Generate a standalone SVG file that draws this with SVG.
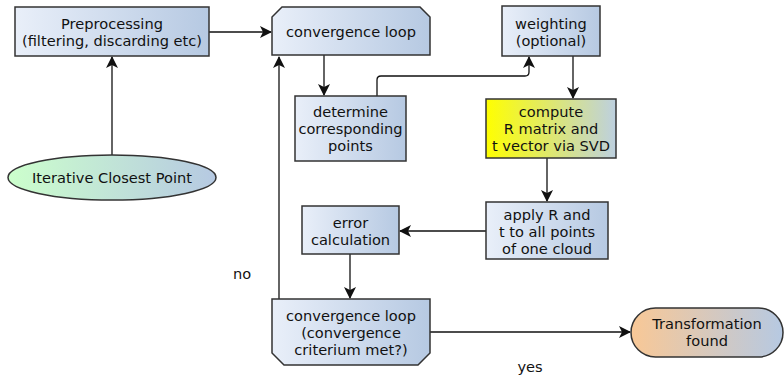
<svg xmlns="http://www.w3.org/2000/svg" width="784" height="376" viewBox="0 0 784 376">
<style>
  .box { stroke: #333333; stroke-width: 1.5; }
  .blue { fill: url(#gBlue); }
  .t { font-family: "DejaVu Sans", sans-serif; font-size: 14.6px; fill: #111111; text-anchor: middle; }
  .c { fill: none; stroke: #111111; stroke-width: 1.3; }
</style>
<defs>
  <linearGradient id="gBlue" x1="0" y1="0" x2="1" y2="0">
    <stop offset="0" stop-color="#e9eff9"/>
    <stop offset="1" stop-color="#b6c9e2"/>
  </linearGradient>
  <linearGradient id="gYellow" x1="0" y1="0" x2="1" y2="0">
    <stop offset="0" stop-color="#ffff00"/>
    <stop offset="1" stop-color="#bdd0e0"/>
  </linearGradient>
  <linearGradient id="gGreen" x1="0" y1="0" x2="1" y2="0">
    <stop offset="0" stop-color="#ccffcc"/>
    <stop offset="1" stop-color="#b6c9e2"/>
  </linearGradient>
  <linearGradient id="gOrange" x1="0" y1="0" x2="1" y2="0">
    <stop offset="0" stop-color="#f9c896"/>
    <stop offset="1" stop-color="#b6c9e2"/>
  </linearGradient>
  <marker id="arr" viewBox="0 0 12 12" refX="11" refY="6" markerWidth="12" markerHeight="12" markerUnits="userSpaceOnUse" orient="auto">
    <path d="M0,0 L12,6 L0,12 L3,6 Z" fill="#111111"/>
  </marker>
</defs>

<g id="connectors">
  <path class="c" d="M209,32 L271,32" marker-end="url(#arr)"/>
  <path class="c" d="M112,155 L112,57" marker-end="url(#arr)"/>
  <path class="c" d="M324,55 L324,95" marker-end="url(#arr)"/>
  <path class="c" d="M377,96 L377,80 Q377,76 381,76 L525,76 Q529,76 529,72 L529,57" marker-end="url(#arr)"/>
  <path class="c" d="M573,56 L573,98" marker-end="url(#arr)"/>
  <path class="c" d="M547,158 L547,201" marker-end="url(#arr)"/>
  <path class="c" d="M486,231 L400,231" marker-end="url(#arr)"/>
  <path class="c" d="M350,254 L350,298" marker-end="url(#arr)"/>
  <path class="c" d="M279,299 L279,57" marker-end="url(#arr)"/>
  <path class="c" d="M430,332 L630,332" marker-end="url(#arr)"/>
  <text class="t" x="242" y="279">no</text>
  <text class="t" x="530" y="372">yes</text>
</g>

<g id="preprocessing">
  <rect class="box blue" x="15" y="7" width="194" height="49"/>
  <text class="t" x="112" y="29">Preprocessing</text>
  <text class="t" x="112" y="46">(filtering, discarding etc)</text>
</g>

<g id="convergence-loop-top">
  <path class="box blue" d="M282,7 L420,7 L430,17 L430,55 L272,55 L272,17 Z"/>
  <text class="t" x="351" y="36.5">convergence loop</text>
</g>

<g id="weighting">
  <rect class="box blue" x="502" y="6" width="98" height="50"/>
  <text class="t" x="551" y="28.5">weighting</text>
  <text class="t" x="551" y="45.5">(optional)</text>
</g>

<g id="determine">
  <rect class="box blue" x="295" y="96" width="111" height="65"/>
  <text class="t" x="350.5" y="117">determine</text>
  <text class="t" x="350.5" y="134">corresponding</text>
  <text class="t" x="350.5" y="151">points</text>
</g>

<g id="compute">
  <rect class="box" fill="url(#gYellow)" x="486" y="99" width="130" height="59"/>
  <text class="t" x="551" y="117">compute</text>
  <text class="t" x="551" y="134">R matrix and</text>
  <text class="t" x="551" y="151">t vector via SVD</text>
</g>

<g id="apply">
  <rect class="box blue" x="486" y="202" width="122" height="57"/>
  <text class="t" x="547" y="220">apply R and</text>
  <text class="t" x="547" y="237">t to all points</text>
  <text class="t" x="547" y="253.5">of one cloud</text>
</g>

<g id="error">
  <rect class="box blue" x="302" y="206" width="97" height="48"/>
  <text class="t" x="350.5" y="227.5">error</text>
  <text class="t" x="350.5" y="244.5">calculation</text>
</g>

<g id="convergence-loop-bottom">
  <path class="box blue" d="M272,299 L430,299 L430,353 L418,365 L284,365 L272,353 Z"/>
  <text class="t" x="351" y="320.5">convergence loop</text>
  <text class="t" x="351" y="337.5">(convergence</text>
  <text class="t" x="351" y="354.5">criterium met?)</text>
</g>

<g id="transformation-found">
  <rect class="box" fill="url(#gOrange)" x="631" y="308" width="152" height="49" rx="24.5" ry="24.5"/>
  <text class="t" x="707" y="329">Transformation</text>
  <text class="t" x="707" y="346">found</text>
</g>

<g id="icp">
  <ellipse class="box" fill="url(#gGreen)" cx="112" cy="177.5" rx="104" ry="22.5"/>
  <text class="t" x="112" y="182.5">Iterative Closest Point</text>
</g>
</svg>
